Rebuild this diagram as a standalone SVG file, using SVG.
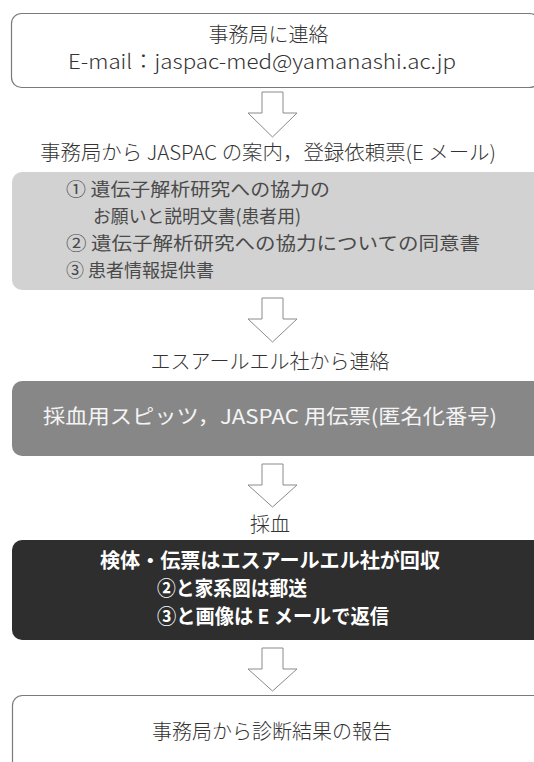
<svg xmlns="http://www.w3.org/2000/svg" width="534" height="762" viewBox="0 0 534 762">
<style>
.t{font-family:"Noto Sans CJK JP","Noto Sans",sans-serif;font-size:20px;font-weight:300;fill:#333}
.c{text-anchor:middle}
.w{fill:#f4f4f4;font-weight:400}
.b{fill:#ffffff;font-weight:700}
.g{fill:#4a4a4a;font-weight:400;font-size:18.5px}
.ob{fill:#fff;stroke:#7a7a7a;stroke-width:1.2}
.arr{fill:#fff;stroke:#8a8a8a;stroke-width:1}
</style>
<g id="connectors">
<path class="arr" d="M262,92 H283 V113 H297 L272.5,137 L248,113 H262 Z"/>
<path class="arr" d="M262,298 H283 V319 H297 L272.5,342 L248,319 H262 Z"/>
<path class="arr" d="M262,464 H283 V485 H297 L272.5,507 L248,485 H262 Z"/>
<path class="arr" d="M262,648 H283 V669 H297 L272.5,691 L248,669 H262 Z"/>
</g>
<g id="n1">
<rect class="ob" x="11.5" y="13.5" width="528" height="74" rx="10"/>
<text class="t c" x="268.5" y="42">事務局に連絡</text>
<text class="t c" x="262" y="69" textLength="388" lengthAdjust="spacingAndGlyphs">E-mail：jaspac-med@yamanashi.ac.jp</text>
</g>
<g id="l1">
<text class="t c" x="268" y="160" textLength="456" lengthAdjust="spacingAndGlyphs">事務局から JASPAC の案内，登録依頼票(E メール)</text>
</g>
<g id="n2">
<rect x="12" y="172" width="540" height="118" rx="10" fill="#d2d2d2"/>
<text class="t g" x="66" y="196" textLength="264" lengthAdjust="spacingAndGlyphs">① 遺伝子解析研究への協力の</text>
<text class="t g" x="93" y="223" textLength="208" lengthAdjust="spacingAndGlyphs">お願いと説明文書(患者用)</text>
<text class="t g" x="66" y="250" textLength="414" lengthAdjust="spacingAndGlyphs">② 遺伝子解析研究への協力についての同意書</text>
<text class="t g" x="66" y="277" textLength="148" lengthAdjust="spacingAndGlyphs">③ 患者情報提供書</text>
</g>
<g id="l2">
<text class="t c" x="270" y="369">エスアールエル社から連絡</text>
</g>
<g id="n3">
<rect x="12" y="381" width="540" height="75" rx="10" fill="#878787"/>
<text class="t c w" x="270" y="424" textLength="454" lengthAdjust="spacingAndGlyphs">採血用スピッツ，JASPAC 用伝票(匿名化番号)</text>
</g>
<g id="l3">
<text class="t c" x="270" y="532">採血</text>
</g>
<g id="n4">
<rect x="12" y="540" width="540" height="100" rx="10" fill="#2e2e2e"/>
<text class="t b" x="100" y="568" textLength="340" lengthAdjust="spacingAndGlyphs">検体・伝票はエスアールエル社が回収</text>
<text class="t b" x="157" y="596" textLength="150" lengthAdjust="spacingAndGlyphs">②と家系図は郵送</text>
<text class="t b" x="157" y="624" textLength="232" lengthAdjust="spacingAndGlyphs">③と画像は E メールで返信</text>
</g>
<g id="n5">
<rect class="ob" x="12.5" y="695.5" width="540" height="90" rx="10"/>
<text class="t c" x="272" y="739">事務局から診断結果の報告</text>
</g>
</svg>
